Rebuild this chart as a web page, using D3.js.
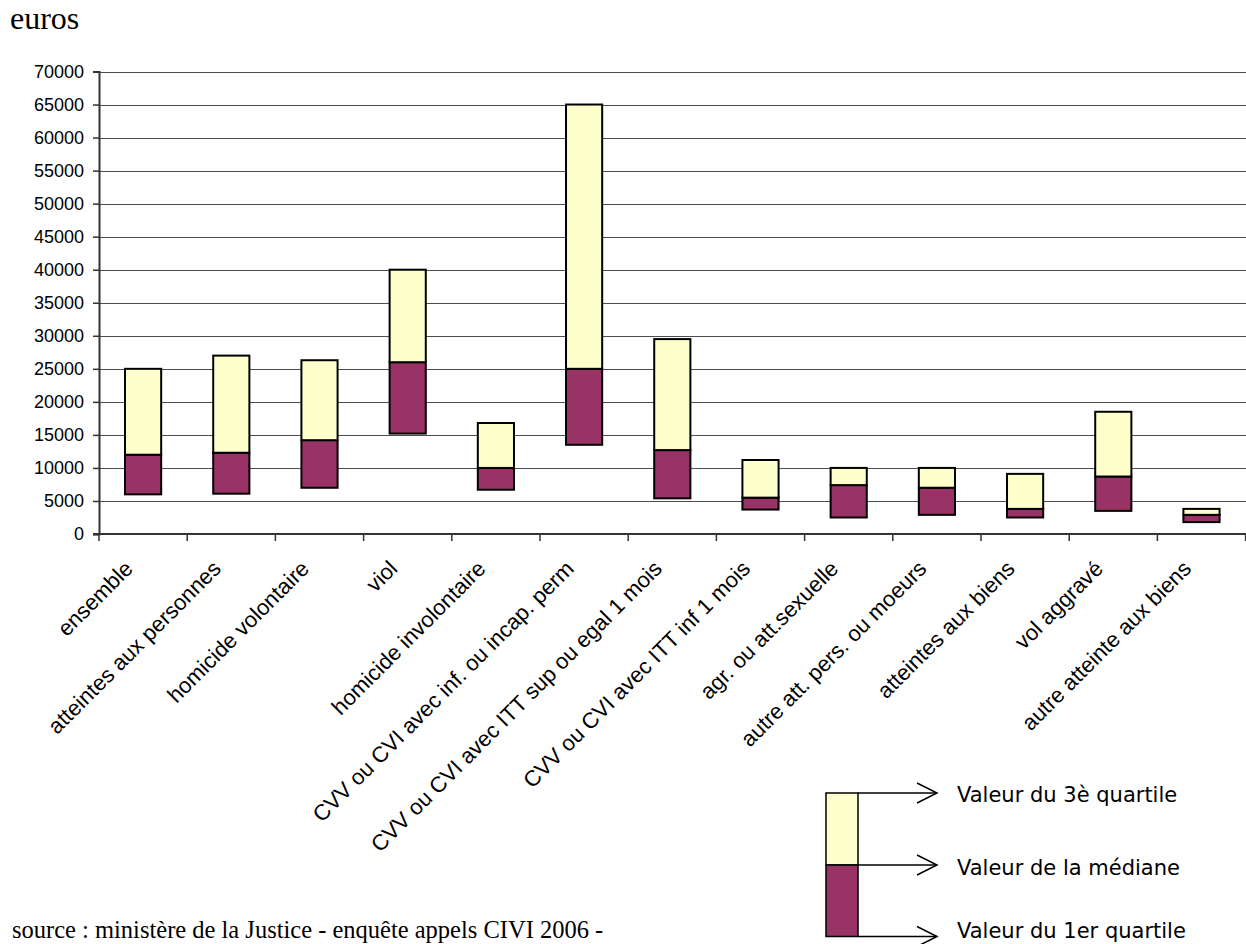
<!DOCTYPE html>
<html>
<head>
<meta charset="utf-8">
<script src="https://cdn.jsdelivr.net/npm/d3@7"></script>
<style>
  html, body { margin: 0; padding: 0; background: #fff; }
  svg { display: block; }
</style>
</head>
<body>
<svg id="chart" width="1246" height="944"></svg>
<script>
// Indemnisation par type d'infraction : 1er quartile, médiane, 3e quartile (euros)
const categories = [
  "ensemble",
  "atteintes aux personnes",
  "homicide volontaire",
  "viol",
  "homicide involontaire",
  "CVV ou CVI avec inf. ou incap. perm",
  "CVV ou CVI avec ITT sup ou egal 1 mois",
  "CVV ou CVI avec ITT inf 1 mois",
  "agr. ou att.sexuelle",
  "autre att. pers. ou moeurs",
  "atteintes aux biens",
  "vol aggravé",
  "autre atteinte aux biens"
];
const quartile1 = [6000, 6100, 7000, 15200, 6700, 13500, 5400, 3700, 2500, 2900, 2500, 3500, 1800];
const medians   = [12000, 12300, 14200, 26000, 10000, 25000, 12700, 5500, 7400, 7000, 3800, 8700, 2900];
const quartile3 = [25000, 27000, 26300, 40000, 16800, 65000, 29500, 11200, 10000, 10000, 9100, 18500, 3800];
const yTicks = [0, 5000, 10000, 15000, 20000, 25000, 30000, 35000, 40000, 45000, 50000, 55000, 60000, 65000, 70000];
const legendLabels = ["Valeur du 3è quartile", "Valeur de la médiane", "Valeur du 1er quartile"];
const unitLabel = "euros";
const sourceLabel = "source : ministère de la Justice - enquête appels CIVI 2006 -";

const COL_UPPER = "#FFFFCC";
const COL_LOWER = "#993366";

const svg = d3.select("#chart");
const plot = { left: 99, right: 1245.6, top: 71.5, bottom: 534 };

const x = d3.scaleBand().domain(categories).range([plot.left, plot.right]).padding(0);
const y = d3.scaleLinear().domain([0, 70000]).range([plot.bottom, plot.top]);
const barW = x.bandwidth() * 0.41;

svg.append("rect").attr("width", 1246).attr("height", 944).attr("fill", "#fff");

// horizontal gridlines
svg.append("g").selectAll("line")
  .data(yTicks.filter(d => d > 0))
  .join("line")
  .attr("x1", plot.left).attr("x2", 1246)
  .attr("y1", d => Math.round(y(d)) + 0.5).attr("y2", d => Math.round(y(d)) + 0.5)
  .attr("stroke", "#4d4d4d").attr("stroke-width", 1);

// y axis
const yAxis = svg.append("g")
  .attr("transform", `translate(${plot.left},0)`)
  .call(d3.axisLeft(y).tickValues(yTicks).tickSize(6).tickPadding(9).tickFormat(d3.format("d")));
yAxis.select(".domain").attr("stroke", "#333").attr("stroke-width", 2);
yAxis.selectAll(".tick line").attr("stroke", "#333").attr("stroke-width", 1.5);
yAxis.selectAll(".tick text")
  .attr("font-family", "Liberation Sans, Arial, sans-serif")
  .attr("font-size", 18).attr("fill", "#000");

// boxes: lower part (Q1 -> median), upper part (median -> Q3)
const boxes = svg.append("g").selectAll("g")
  .data(categories.map((c, i) => ({ c, q1: quartile1[i], med: medians[i], q3: quartile3[i] })))
  .join("g");
boxes.append("rect")
  .attr("x", d => x(d.c) + (x.bandwidth() - barW) / 2)
  .attr("width", barW)
  .attr("y", d => y(d.med))
  .attr("height", d => y(d.q1) - y(d.med))
  .attr("fill", COL_LOWER).attr("stroke", "#000").attr("stroke-width", 2);
boxes.append("rect")
  .attr("x", d => x(d.c) + (x.bandwidth() - barW) / 2)
  .attr("width", barW)
  .attr("y", d => y(d.q3))
  .attr("height", d => y(d.med) - y(d.q3))
  .attr("fill", COL_UPPER).attr("stroke", "#000").attr("stroke-width", 2);

// x axis
const xAxis = svg.append("g").attr("transform", `translate(0,${plot.bottom})`);
xAxis.append("line")
  .attr("x1", plot.left - 6).attr("x2", 1246)
  .attr("stroke", "#333").attr("stroke-width", 2);
xAxis.selectAll("line.tk")
  .data(categories.map(c => x(c)).concat([plot.right]))
  .join("line").attr("class", "tk")
  .attr("x1", d => d).attr("x2", d => d)
  .attr("y1", 0).attr("y2", 7)
  .attr("stroke", "#333").attr("stroke-width", 1.5);
xAxis.selectAll("text")
  .data(categories)
  .join("text")
  .attr("transform", d => `translate(${x(d) + x.bandwidth() / 2 - 9},36) rotate(-45)`)
  .attr("text-anchor", "end")
  .attr("font-family", "Liberation Sans, Arial, sans-serif")
  .attr("font-size", 22).attr("fill", "#000")
  .text(d => d);

// unit label
svg.append("text")
  .attr("x", 10).attr("y", 29)
  .attr("font-family", "Liberation Serif, Times New Roman, serif")
  .attr("font-size", 32).attr("fill", "#000")
  .text(unitLabel);

// source
svg.append("text")
  .attr("x", 12).attr("y", 938)
  .attr("font-family", "Liberation Serif, Times New Roman, serif")
  .attr("font-size", 24.5).attr("fill", "#000")
  .text(sourceLabel);

// legend: a sample box with arrows pointing to the three values
const lg = { x: 826, w: 32, top: 793, mid: 865, bot: 936.5, tip: 937 };
const legend = svg.append("g");
legend.append("rect").attr("x", lg.x).attr("y", lg.top).attr("width", lg.w).attr("height", lg.mid - lg.top)
  .attr("fill", COL_UPPER).attr("stroke", "#000").attr("stroke-width", 1.5);
legend.append("rect").attr("x", lg.x).attr("y", lg.mid).attr("width", lg.w).attr("height", lg.bot - lg.mid)
  .attr("fill", COL_LOWER).attr("stroke", "#000").attr("stroke-width", 1.5);
const arrowYs = [lg.top, lg.mid, lg.bot];
const textYs = [802, 875, 938];
arrowYs.forEach((ay, i) => {
  legend.append("line")
    .attr("x1", lg.x + lg.w).attr("x2", lg.tip)
    .attr("y1", ay).attr("y2", ay)
    .attr("stroke", "#000").attr("stroke-width", 1.5);
  legend.append("path")
    .attr("d", `M${lg.tip - 20},${ay - 10} L${lg.tip},${ay} L${lg.tip - 20},${ay + 10}`)
    .attr("fill", "none").attr("stroke", "#000").attr("stroke-width", 1.5);
  legend.append("text")
    .attr("x", 957).attr("y", textYs[i])
    .attr("font-family", "DejaVu Sans, Verdana, sans-serif")
    .attr("font-size", 21).attr("fill", "#000")
    .text(legendLabels[i]);
});
</script>
</body>
</html>
